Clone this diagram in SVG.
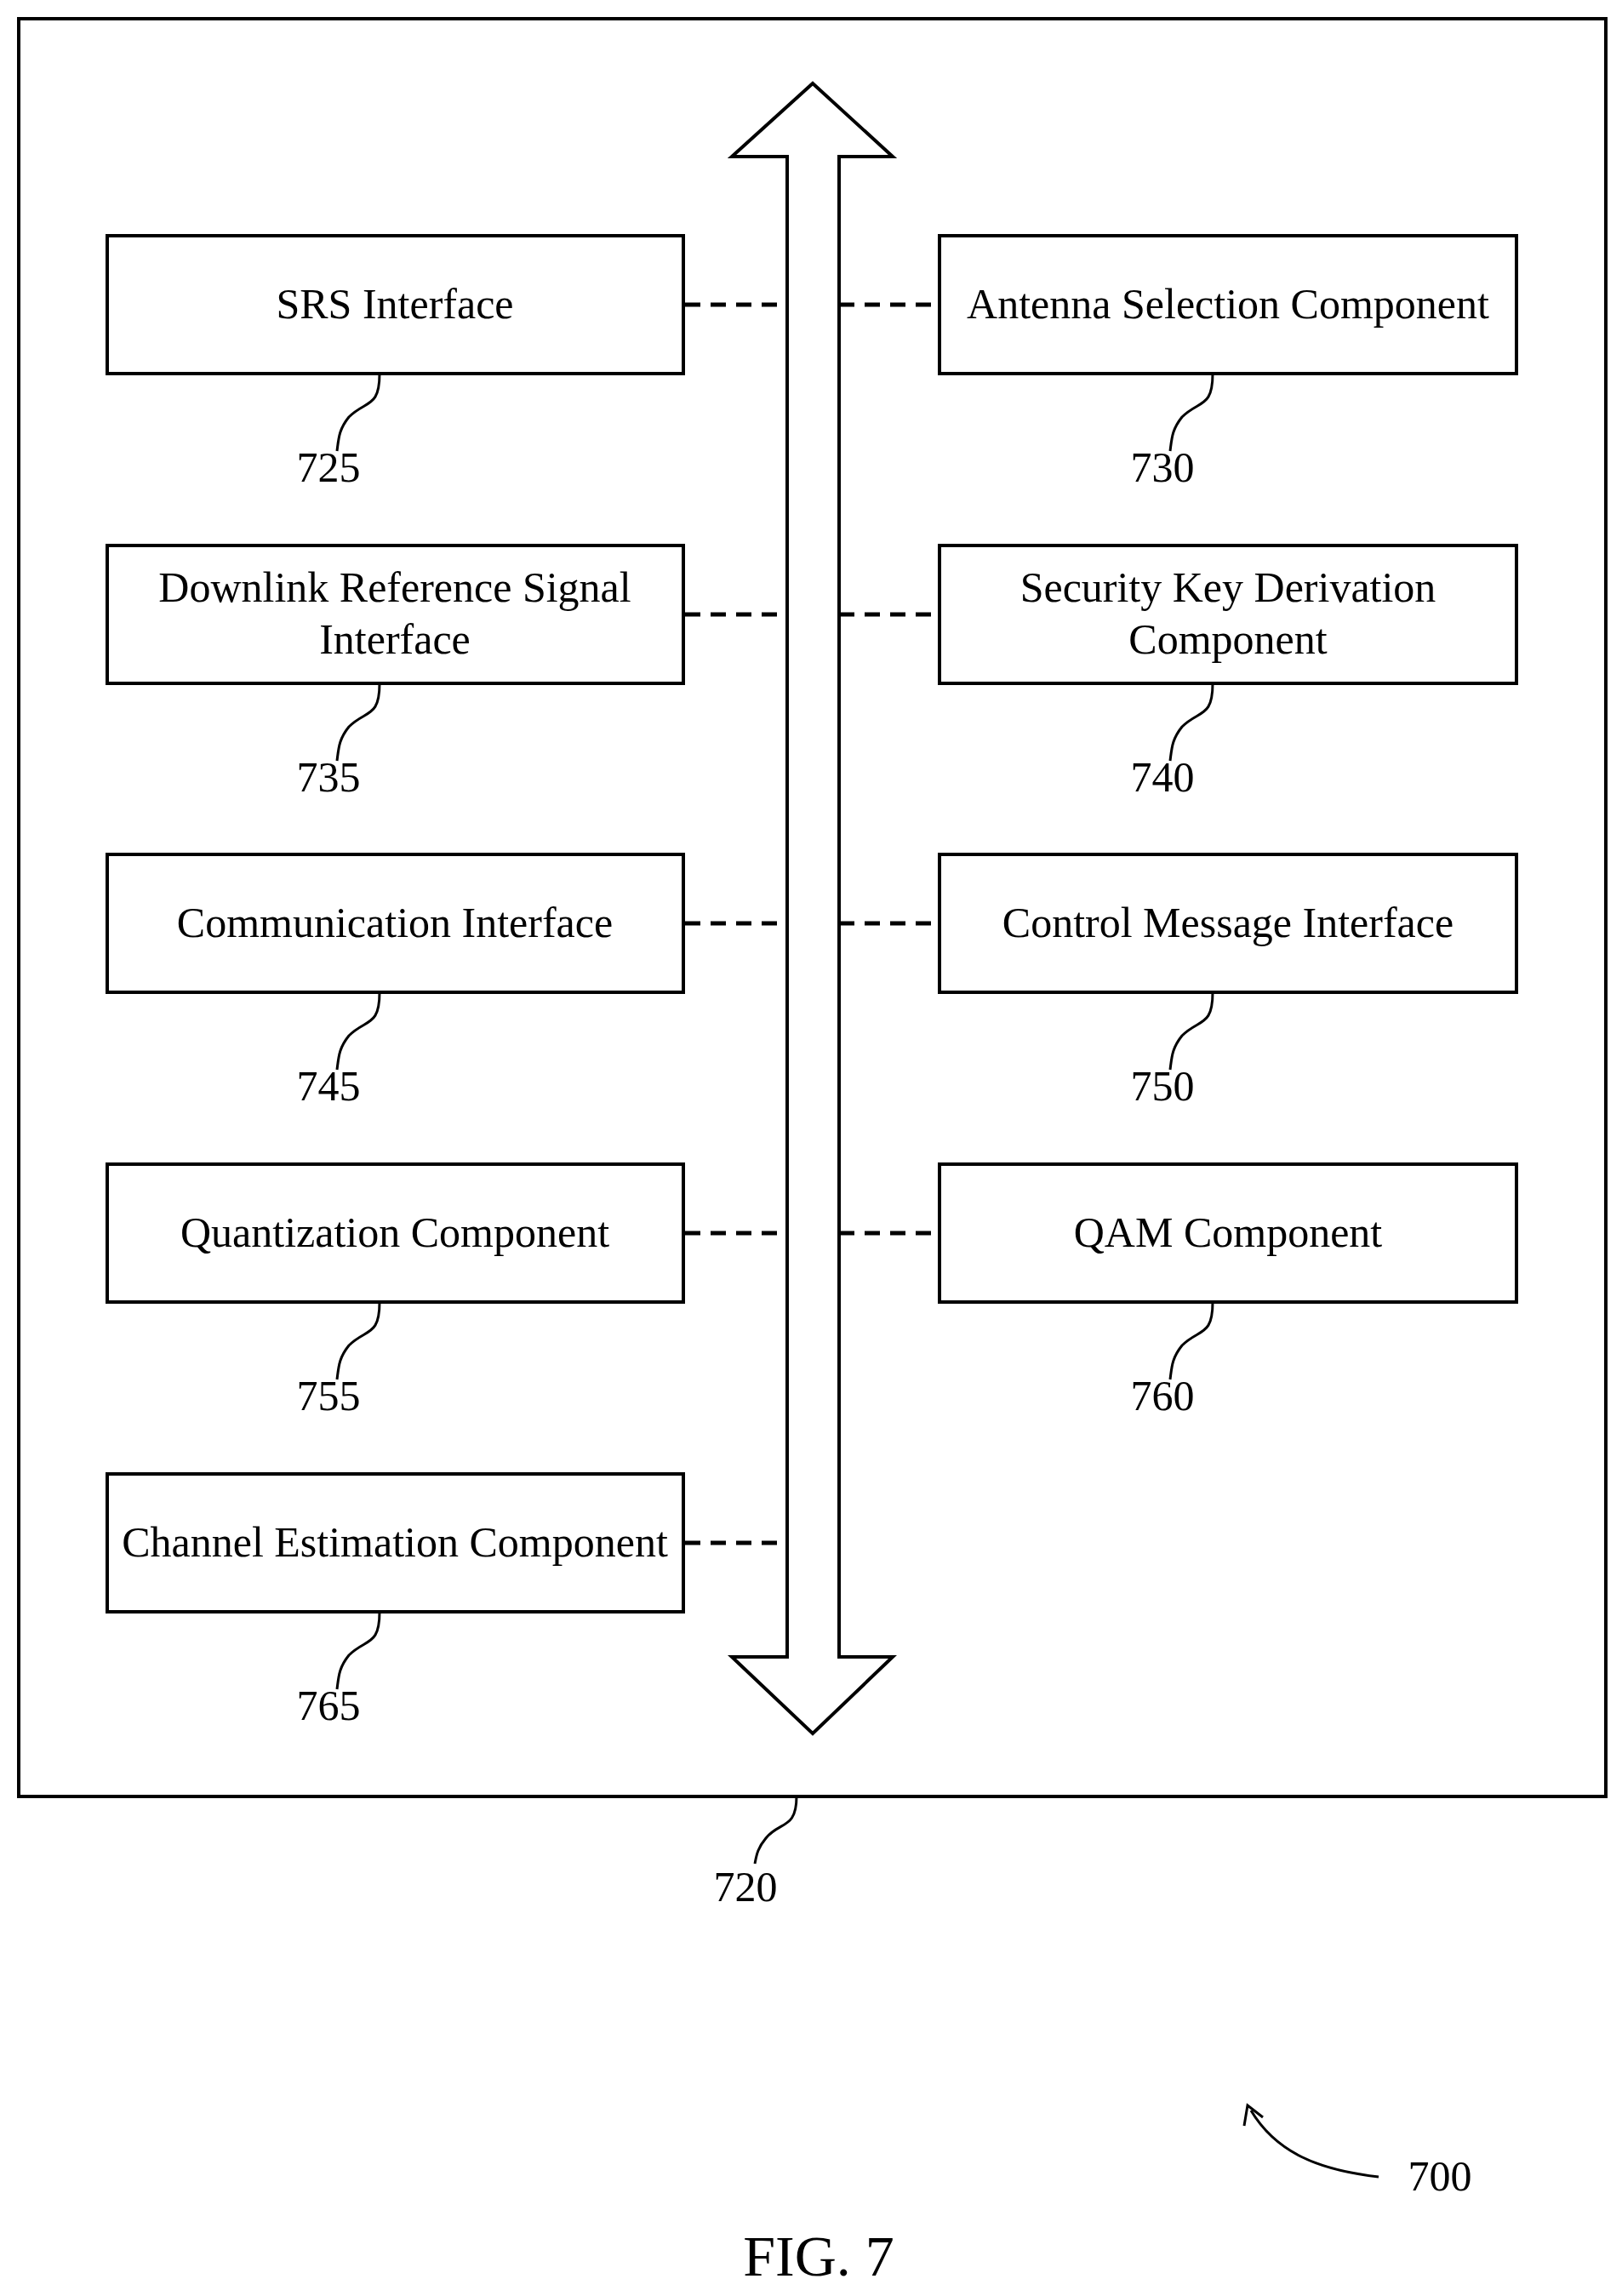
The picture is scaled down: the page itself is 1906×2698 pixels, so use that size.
<svg xmlns="http://www.w3.org/2000/svg" width="1906" height="2698" viewBox="0 0 1906 2698">
<style>
.b{fill:#fff;stroke:#000;stroke-width:4}
.t{font-family:"Liberation Serif",serif;font-size:50px;text-anchor:middle;fill:#000}
.d{stroke:#000;stroke-width:5;stroke-dasharray:18 12;fill:none}
.l{stroke:#000;stroke-width:3;fill:none}
</style>
<rect x="22" y="22" width="1865" height="2089" class="b"/>
<g id="bus"><path class="b" d="M955,98 L1049,184 L986,184 L986,1947 L1049,1947 L955,2037 L860,1947 L925,1947 L925,184 L860,184 Z"/></g>
<g id="connectors">
<path class="d" d="M805,358H913M986,358H1100"/>
<path class="d" d="M805,722H913M986,722H1100"/>
<path class="d" d="M805,1085H913M986,1085H1100"/>
<path class="d" d="M805,1449H913M986,1449H1100"/>
<path class="d" d="M805,1813H913"/>
</g>
<g id="n725"><rect class="b" x="126" y="277" width="677" height="162"/><text class="t" x="464" y="374">SRS Interface</text><path class="l" d="M446,439 C446,480 430,470 410,490 C398,505 398,515 396,530"/><text class="t" x="386" y="566">725</text></g>
<g id="n730"><rect class="b" x="1104" y="277" width="678" height="162"/><text class="t" x="1443" y="374">Antenna Selection Component</text><path class="l" d="M1425,439 C1425,480 1409,470 1389,490 C1377,505 1377,515 1375,530"/><text class="t" x="1366" y="566">730</text></g>
<g id="n735"><rect class="b" x="126" y="641" width="677" height="162"/><text class="t" x="464" y="707">Downlink Reference Signal</text><text class="t" x="464" y="768">Interface</text><path class="l" d="M446,803 C446,844 430,834 410,854 C398,869 398,879 396,894"/><text class="t" x="386" y="930">735</text></g>
<g id="n740"><rect class="b" x="1104" y="641" width="678" height="162"/><text class="t" x="1443" y="707">Security Key Derivation</text><text class="t" x="1443" y="768">Component</text><path class="l" d="M1425,803 C1425,844 1409,834 1389,854 C1377,869 1377,879 1375,894"/><text class="t" x="1366" y="930">740</text></g>
<g id="n745"><rect class="b" x="126" y="1004" width="677" height="162"/><text class="t" x="464" y="1101">Communication Interface</text><path class="l" d="M446,1166 C446,1207 430,1197 410,1217 C398,1232 398,1242 396,1257"/><text class="t" x="386" y="1293">745</text></g>
<g id="n750"><rect class="b" x="1104" y="1004" width="678" height="162"/><text class="t" x="1443" y="1101">Control Message Interface</text><path class="l" d="M1425,1166 C1425,1207 1409,1197 1389,1217 C1377,1232 1377,1242 1375,1257"/><text class="t" x="1366" y="1293">750</text></g>
<g id="n755"><rect class="b" x="126" y="1368" width="677" height="162"/><text class="t" x="464" y="1465">Quantization Component</text><path class="l" d="M446,1530 C446,1571 430,1561 410,1581 C398,1596 398,1606 396,1621"/><text class="t" x="386" y="1657">755</text></g>
<g id="n760"><rect class="b" x="1104" y="1368" width="678" height="162"/><text class="t" x="1443" y="1465">QAM Component</text><path class="l" d="M1425,1530 C1425,1571 1409,1561 1389,1581 C1377,1596 1377,1606 1375,1621"/><text class="t" x="1366" y="1657">760</text></g>
<g id="n765"><rect class="b" x="126" y="1732" width="677" height="162"/><text class="t" x="464" y="1829">Channel Estimation Component</text><path class="l" d="M446,1894 C446,1935 430,1925 410,1945 C398,1960 398,1970 396,1985"/><text class="t" x="386" y="2021">765</text></g>
<g id="n720"><path class="l" d="M936,2111 C936,2150 916,2140 900,2160 C890,2172 889,2180 887,2190"/><text class="t" x="876" y="2234">720</text></g>
<g id="n700"><path class="l" d="M1620,2558 C1550,2550 1500,2530 1470,2480"/><path class="l" d="M1462,2498 L1466,2474 L1484,2488"/><text class="t" x="1692" y="2574">700</text></g>
<text x="962" y="2674" style="font-family:'Liberation Serif',serif;font-size:68px;text-anchor:middle">FIG. 7</text>
</svg>
